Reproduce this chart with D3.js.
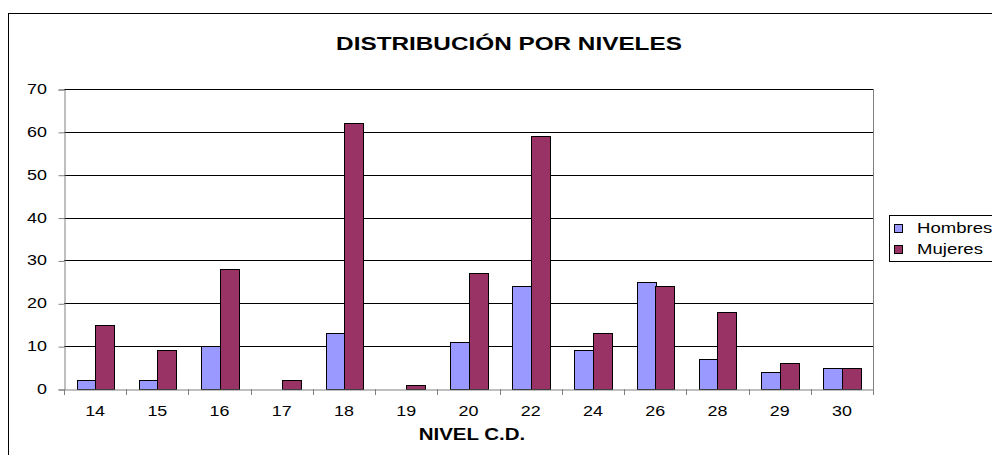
<!DOCTYPE html>
<html>
<head>
<meta charset="utf-8">
<script src="https://cdn.jsdelivr.net/npm/d3@7"></script>
<style>
body { margin: 0; background: #fff; }
svg text { font-family: "Liberation Sans", Arial, sans-serif; }
</style>
</head>
<body>
<div id="graph"></div>
<script>
// niveles y valores
var niveles = ["14", "15", "16", "17", "18", "19", "20", "22", "24", "26", "28", "29", "30"];
var hombres = [2, 2, 10, 0, 13, 0, 11, 24, 9, 25, 7, 4, 5];
var mujeres = [15, 9, 28, 2, 62, 1, 27, 59, 13, 24, 18, 6, 5];
var yTicks = [0, 10, 20, 30, 40, 50, 60, 70];
var series = [
	{ name: "Hombres", values: hombres, color: "#9999ff" },
	{ name: "Mujeres", values: mujeres, color: "#993366" }
];

var width = 992, height = 455;
var plotLeft = 64, plotRight = 873, plotTop = 89, plotBottom = 389;
// el original esta estirado en horizontal
var stretch = 1.28;

var svg = d3.select("#graph").append("svg")
	.attr("width", width)
	.attr("height", height);

// borde del area del grafico
svg.append("rect")
	.attr("x", 8.5).attr("y", 13.5)
	.attr("width", 1000).attr("height", 500)
	.attr("fill", "none")
	.attr("stroke", "#000");

var xScale = d3.scaleBand()
	.domain(niveles)
	.range([plotLeft, plotRight]);
var xInner = d3.scaleBand()
	.domain(series.map(function (s) { return s.name; }))
	.range([0, xScale.bandwidth()])
	.paddingOuter(0.68);
var yScale = d3.scaleLinear()
	.domain([0, 70])
	.range([plotBottom, plotTop]);

function label(x, y, txt, size, bold, anchor) {
	return svg.append("text")
		.attr("transform", "translate(" + x + "," + y + ") scale(" + stretch + ",1)")
		.attr("text-anchor", anchor || "middle")
		.attr("font-size", size)
		.attr("font-weight", bold ? "bold" : null)
		.text(txt);
}

// lineas de division
svg.append("g")
	.selectAll("line")
	.data(yTicks.slice(1))
	.join("line")
	.attr("x1", plotLeft).attr("x2", plotRight)
	.attr("y1", function (d) { return Math.round(yScale(d)) + 0.5; })
	.attr("y2", function (d) { return Math.round(yScale(d)) + 0.5; })
	.attr("stroke", "#000");

svg.append("line")
	.attr("x1", plotRight + 0.5).attr("x2", plotRight + 0.5)
	.attr("y1", plotTop).attr("y2", plotBottom)
	.attr("stroke", "#808080");

// barras
series.forEach(function (s) {
	svg.append("g")
		.selectAll("rect")
		.data(s.values)
		.join("rect")
		.attr("x", function (d, i) {
			return Math.round(xScale(niveles[i]) + xInner(s.name)) + 0.5;
		})
		.attr("width", Math.round(xInner.bandwidth()))
		.attr("y", function (d) { return Math.round(yScale(d)) + 0.5; })
		.attr("height", function (d) { return Math.round(plotBottom - yScale(d)); })
		.attr("fill", s.color)
		.attr("stroke", "#000")
		.attr("stroke-width", 1)
		.attr("display", function (d) { return d > 0 ? null : "none"; });
});

// ejes
var yAxis = d3.axisLeft(yScale)
	.tickValues(yTicks)
	.tickSize(6)
	.tickFormat("");
var gy = svg.append("g")
	.attr("transform", "translate(" + (plotLeft + 0.5) + ",0.5)")
	.call(yAxis);
gy.select(".domain").attr("stroke", "#808080");
gy.selectAll(".tick line").attr("stroke", "#808080");
yTicks.forEach(function (t) {
	label(47, yScale(t) + 5, t, 14, false, "end");
});

var xAxis = d3.axisBottom(xScale)
	.tickSize(0)
	.tickFormat("");
var gx = svg.append("g")
	.attr("transform", "translate(0," + (plotBottom + 0.5) + ")")
	.call(xAxis);
gx.select(".domain").attr("stroke", "#808080");
niveles.forEach(function (n) {
	label(xScale(n) + xScale.bandwidth() / 2, 416, n, 14, false);
});

svg.append("g")
	.selectAll("line")
	.data(d3.range(niveles.length + 1))
	.join("line")
	.attr("x1", function (i) { return Math.round(plotLeft + i * xScale.step()) + 0.5; })
	.attr("x2", function (i) { return Math.round(plotLeft + i * xScale.step()) + 0.5; })
	.attr("y1", plotBottom).attr("y2", plotBottom + 6)
	.attr("stroke", "#808080");

// titulos
label(509, 50, "DISTRIBUCIÓN POR NIVELES", 19, true);
label(472, 440, "NIVEL C.D.", 16, true);

// leyenda
svg.append("rect")
	.attr("x", 889.5).attr("y", 215.5)
	.attr("width", 120).attr("height", 46)
	.attr("fill", "#fff")
	.attr("stroke", "#000");
series.forEach(function (s, i) {
	svg.append("rect")
		.attr("x", 894.5).attr("y", 224.5 + i * 21)
		.attr("width", 8).attr("height", 8)
		.attr("fill", s.color)
		.attr("stroke", "#000");
	label(917, 233 + i * 21, s.name, 14.5, false, "start");
});
</script>
</body>
</html>
